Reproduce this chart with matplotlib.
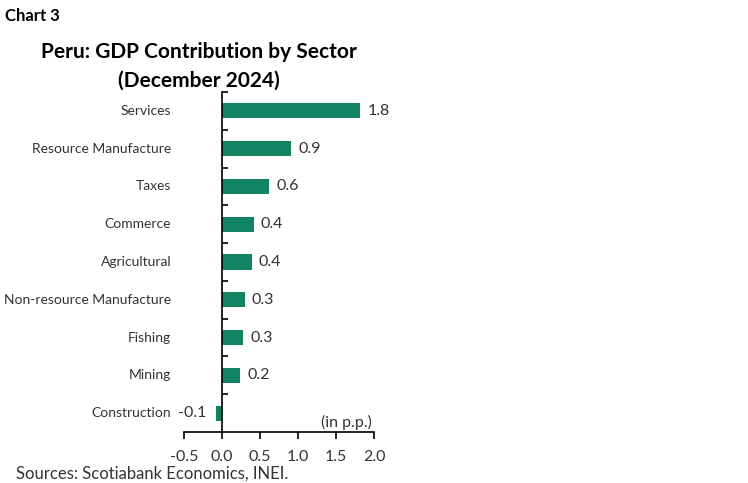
import numpy as np
import matplotlib.pyplot as plt

plt.rcParams['font.family'] = ['Lato', 'DejaVu Sans']

sectors = ["Services", "Resource Manufacture", "Taxes", "Commerce", "Agricultural",
           "Non-resource Manufacture", "Fishing", "Mining", "Construction"]
values = [1.82, 0.91, 0.62, 0.42, 0.39, 0.30, 0.28, 0.24, -0.08]
labels = ["1.8", "0.9", "0.6", "0.4", "0.4", "0.3", "0.3", "0.2", "-0.1"]
xticks = [-0.5, 0.0, 0.5, 1.0, 1.5, 2.0]

GREEN = '#138462'
GREY = '#333333'

fig = plt.figure(figsize=(7.48, 4.83), dpi=100)
ax = fig.add_axes([0.246, 0.1056, 0.254, 0.704])

ypos = np.arange(len(sectors))[::-1]
ax.barh(ypos, values, height=0.4, color=GREEN)

for y, v, lab in zip(ypos, values, labels):
    if v >= 0:
        ax.annotate(lab, (v, y), xytext=(5, 0), textcoords='offset points',
                    va='center', ha='left', fontsize=11.5, color=GREY)
    else:
        ax.annotate(lab, (v, y), xytext=(-7, 0), textcoords='offset points',
                    va='center', ha='right', fontsize=11.5, color=GREY)

ax.set_xlim(-0.5, 2.0)
ax.set_ylim(-0.5, len(sectors) - 0.5)
ax.set_xticks(xticks)
ax.set_xticklabels([f"{t:.1f}" for t in xticks], fontsize=11.5, color=GREY)
ax.tick_params(axis='x', direction='out', length=5, width=1.2, pad=8)

# category labels as text, ticks at category boundaries
ax.set_yticks(np.arange(len(sectors)) + 0.5)
ax.set_yticklabels([])
ax.tick_params(axis='y', direction='in', length=4, width=1.2)
for y, s in zip(ypos, sectors):
    ax.text(-0.67, y, s, transform=ax.transData, ha='right', va='center',
            fontsize=10, color=GREY)

for side in ['top', 'right']:
    ax.spines[side].set_visible(False)
ax.spines['left'].set_position(('data', 0))
ax.spines['left'].set_linewidth(1.2)
ax.spines['bottom'].set_linewidth(1.2)

ax.text(1.97, -0.25, "(in p.p.)", ha='right', va='center', fontsize=11.5,
        color=GREY)

fig.text(0.007, 0.967, "Chart 3", fontsize=12, fontweight='bold', va='center', ha='left')
fig.text(0.266, 0.892, "Peru: GDP Contribution by Sector", fontsize=15,
         fontweight='bold', ha='center', va='center')
fig.text(0.266, 0.834, "(December 2024)", fontsize=15,
         fontweight='bold', ha='center', va='center')
fig.text(0.022, 0.02, "Sources: Scotiabank Economics, INEI.", fontsize=12,
         color=GREY, ha='left', va='center')

fig.savefig('out.png', dpi=100)
